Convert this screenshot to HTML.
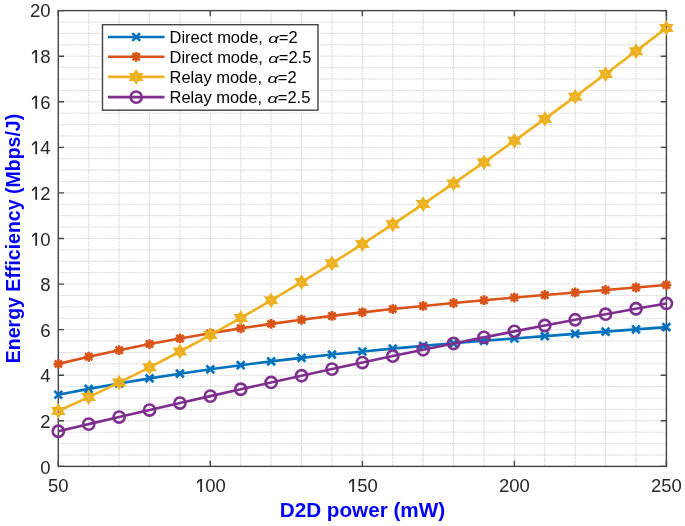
<!DOCTYPE html>
<html><head><meta charset="utf-8"><style>
html,body{margin:0;padding:0;background:#fff;width:685px;height:526px;overflow:hidden}
svg{display:block;filter:blur(0.35px);}
text{font-family:"Liberation Sans",sans-serif}
</style></head><body>
<svg width="685" height="526" viewBox="0 0 685 526">
<rect x="0" y="0" width="685" height="526" fill="#fff"/>
<path d="M88.70,10.6V466.4M119.11,10.6V466.4M149.51,10.6V466.4M179.92,10.6V466.4M210.32,10.6V466.4M240.73,10.6V466.4M271.13,10.6V466.4M301.54,10.6V466.4M331.94,10.6V466.4M362.35,10.6V466.4M392.75,10.6V466.4M423.16,10.6V466.4M453.56,10.6V466.4M483.97,10.6V466.4M514.38,10.6V466.4M544.78,10.6V466.4M575.18,10.6V466.4M605.59,10.6V466.4M636.00,10.6V466.4M58.3,455.00H666.4M58.3,443.61H666.4M58.3,432.21H666.4M58.3,420.82H666.4M58.3,409.42H666.4M58.3,398.03H666.4M58.3,386.63H666.4M58.3,375.24H666.4M58.3,363.84H666.4M58.3,352.45H666.4M58.3,341.06H666.4M58.3,329.66H666.4M58.3,318.26H666.4M58.3,306.87H666.4M58.3,295.48H666.4M58.3,284.08H666.4M58.3,272.69H666.4M58.3,261.29H666.4M58.3,249.90H666.4M58.3,238.50H666.4M58.3,227.10H666.4M58.3,215.71H666.4M58.3,204.31H666.4M58.3,192.92H666.4M58.3,181.53H666.4M58.3,170.13H666.4M58.3,158.74H666.4M58.3,147.34H666.4M58.3,135.94H666.4M58.3,124.55H666.4M58.3,113.15H666.4M58.3,101.76H666.4M58.3,90.37H666.4M58.3,78.97H666.4M58.3,67.58H666.4M58.3,56.18H666.4M58.3,44.79H666.4M58.3,33.39H666.4M58.3,22.00H666.4" stroke="#d0d0d0" stroke-width="1" stroke-dasharray="1.4,1.0" fill="none"/>
<path d="M58.30,466.4V460.7M58.30,10.6V16.3M210.32,466.4V460.7M210.32,10.6V16.3M362.35,466.4V460.7M362.35,10.6V16.3M514.38,466.4V460.7M514.38,10.6V16.3M666.40,466.4V460.7M666.40,10.6V16.3M58.3,466.40H64.0M666.4,466.40H660.6999999999999M58.3,420.82H64.0M666.4,420.82H660.6999999999999M58.3,375.24H64.0M666.4,375.24H660.6999999999999M58.3,329.66H64.0M666.4,329.66H660.6999999999999M58.3,284.08H64.0M666.4,284.08H660.6999999999999M58.3,238.50H64.0M666.4,238.50H660.6999999999999M58.3,192.92H64.0M666.4,192.92H660.6999999999999M58.3,147.34H64.0M666.4,147.34H660.6999999999999M58.3,101.76H64.0M666.4,101.76H660.6999999999999M58.3,56.18H64.0M666.4,56.18H660.6999999999999M58.3,10.60H64.0M666.4,10.60H660.6999999999999" stroke="#444444" stroke-width="1.4" fill="none"/>
<rect x="58.3" y="10.6" width="608.1" height="455.8" stroke="#444444" stroke-width="1.4" fill="none"/>
<polyline points="58.30,394.74 88.70,388.89 119.11,383.44 149.51,378.38 179.92,373.66 210.32,369.28 240.73,365.20 271.13,361.41 301.54,357.88 331.94,354.58 362.35,351.50 392.75,348.60 423.16,345.87 453.56,343.28 483.97,340.81 514.38,338.43 544.78,336.13 575.18,333.87 605.59,331.63 636.00,329.39 666.40,327.13" stroke="#0072BD" stroke-width="2.6" fill="none" stroke-linejoin="round"/>
<path d="M54.40,390.84L62.20,398.64M54.40,398.64L62.20,390.84" stroke="#0072BD" stroke-width="2.7" fill="none"/>
<path d="M84.80,384.99L92.61,392.79M84.80,392.79L92.61,384.99" stroke="#0072BD" stroke-width="2.7" fill="none"/>
<path d="M115.21,379.54L123.01,387.34M115.21,387.34L123.01,379.54" stroke="#0072BD" stroke-width="2.7" fill="none"/>
<path d="M145.61,374.48L153.41,382.28M145.61,382.28L153.41,374.48" stroke="#0072BD" stroke-width="2.7" fill="none"/>
<path d="M176.02,369.76L183.82,377.56M176.02,377.56L183.82,369.76" stroke="#0072BD" stroke-width="2.7" fill="none"/>
<path d="M206.42,365.38L214.22,373.18M206.42,373.18L214.22,365.38" stroke="#0072BD" stroke-width="2.7" fill="none"/>
<path d="M236.83,361.30L244.63,369.10M236.83,369.10L244.63,361.30" stroke="#0072BD" stroke-width="2.7" fill="none"/>
<path d="M267.24,357.51L275.03,365.31M267.24,365.31L275.03,357.51" stroke="#0072BD" stroke-width="2.7" fill="none"/>
<path d="M297.64,353.98L305.44,361.78M297.64,361.78L305.44,353.98" stroke="#0072BD" stroke-width="2.7" fill="none"/>
<path d="M328.05,350.68L335.84,358.48M328.05,358.48L335.84,350.68" stroke="#0072BD" stroke-width="2.7" fill="none"/>
<path d="M358.45,347.60L366.25,355.40M358.45,355.40L366.25,347.60" stroke="#0072BD" stroke-width="2.7" fill="none"/>
<path d="M388.86,344.70L396.65,352.50M388.86,352.50L396.65,344.70" stroke="#0072BD" stroke-width="2.7" fill="none"/>
<path d="M419.26,341.97L427.06,349.77M419.26,349.77L427.06,341.97" stroke="#0072BD" stroke-width="2.7" fill="none"/>
<path d="M449.67,339.38L457.46,347.18M449.67,347.18L457.46,339.38" stroke="#0072BD" stroke-width="2.7" fill="none"/>
<path d="M480.07,336.91L487.87,344.71M480.07,344.71L487.87,336.91" stroke="#0072BD" stroke-width="2.7" fill="none"/>
<path d="M510.48,334.53L518.27,342.33M510.48,342.33L518.27,334.53" stroke="#0072BD" stroke-width="2.7" fill="none"/>
<path d="M540.88,332.23L548.68,340.03M540.88,340.03L548.68,332.23" stroke="#0072BD" stroke-width="2.7" fill="none"/>
<path d="M571.28,329.97L579.08,337.77M571.28,337.77L579.08,329.97" stroke="#0072BD" stroke-width="2.7" fill="none"/>
<path d="M601.69,327.73L609.49,335.53M601.69,335.53L609.49,327.73" stroke="#0072BD" stroke-width="2.7" fill="none"/>
<path d="M632.10,325.49L639.89,333.29M632.10,333.29L639.89,325.49" stroke="#0072BD" stroke-width="2.7" fill="none"/>
<path d="M662.50,323.23L670.30,331.03M662.50,331.03L670.30,323.23" stroke="#0072BD" stroke-width="2.7" fill="none"/>
<polyline points="58.30,363.88 88.70,356.77 119.11,350.17 149.51,344.06 179.92,338.41 210.32,333.18 240.73,328.35 271.13,323.88 301.54,319.74 331.94,315.91 362.35,312.35 392.75,309.03 423.16,305.92 453.56,302.99 483.97,300.21 514.38,297.55 544.78,294.97 575.18,292.46 605.59,289.97 636.00,287.48 666.40,284.96" stroke="#D95319" stroke-width="2.6" fill="none" stroke-linejoin="round"/>
<path d="M58.30,358.98V368.78M53.40,363.88H63.20M54.70,360.28L61.90,367.48M54.70,367.48L61.90,360.28" stroke="#D95319" stroke-width="2.5" fill="none"/>
<path d="M88.70,351.87V361.67M83.80,356.77H93.61M85.11,353.17L92.30,360.37M85.11,360.37L92.30,353.17" stroke="#D95319" stroke-width="2.5" fill="none"/>
<path d="M119.11,345.27V355.07M114.21,350.17H124.01M115.51,346.57L122.71,353.77M115.51,353.77L122.71,346.57" stroke="#D95319" stroke-width="2.5" fill="none"/>
<path d="M149.51,339.16V348.96M144.61,344.06H154.41M145.91,340.46L153.11,347.66M145.91,347.66L153.11,340.46" stroke="#D95319" stroke-width="2.5" fill="none"/>
<path d="M179.92,333.51V343.31M175.02,338.41H184.82M176.32,334.81L183.52,342.01M176.32,342.01L183.52,334.81" stroke="#D95319" stroke-width="2.5" fill="none"/>
<path d="M210.32,328.28V338.08M205.42,333.18H215.22M206.72,329.58L213.92,336.78M206.72,336.78L213.92,329.58" stroke="#D95319" stroke-width="2.5" fill="none"/>
<path d="M240.73,323.45V333.25M235.83,328.35H245.63M237.13,324.75L244.33,331.95M237.13,331.95L244.33,324.75" stroke="#D95319" stroke-width="2.5" fill="none"/>
<path d="M271.13,318.98V328.78M266.24,323.88H276.03M267.53,320.28L274.74,327.48M267.53,327.48L274.74,320.28" stroke="#D95319" stroke-width="2.5" fill="none"/>
<path d="M301.54,314.84V324.64M296.64,319.74H306.44M297.94,316.14L305.14,323.34M297.94,323.34L305.14,316.14" stroke="#D95319" stroke-width="2.5" fill="none"/>
<path d="M331.94,311.01V320.81M327.05,315.91H336.84M328.34,312.31L335.55,319.51M328.34,319.51L335.55,312.31" stroke="#D95319" stroke-width="2.5" fill="none"/>
<path d="M362.35,307.45V317.25M357.45,312.35H367.25M358.75,308.75L365.95,315.95M358.75,315.95L365.95,308.75" stroke="#D95319" stroke-width="2.5" fill="none"/>
<path d="M392.75,304.13V313.93M387.86,309.03H397.65M389.15,305.43L396.36,312.63M389.15,312.63L396.36,305.43" stroke="#D95319" stroke-width="2.5" fill="none"/>
<path d="M423.16,301.02V310.82M418.26,305.92H428.06M419.56,302.32L426.76,309.52M419.56,309.52L426.76,302.32" stroke="#D95319" stroke-width="2.5" fill="none"/>
<path d="M453.56,298.09V307.89M448.67,302.99H458.46M449.96,299.39L457.17,306.59M449.96,306.59L457.17,299.39" stroke="#D95319" stroke-width="2.5" fill="none"/>
<path d="M483.97,295.31V305.11M479.07,300.21H488.87M480.37,296.61L487.57,303.81M480.37,303.81L487.57,296.61" stroke="#D95319" stroke-width="2.5" fill="none"/>
<path d="M514.38,292.65V302.45M509.48,297.55H519.27M510.77,293.95L517.98,301.15M510.77,301.15L517.98,293.95" stroke="#D95319" stroke-width="2.5" fill="none"/>
<path d="M544.78,290.07V299.87M539.88,294.97H549.68M541.18,291.37L548.38,298.57M541.18,298.57L548.38,291.37" stroke="#D95319" stroke-width="2.5" fill="none"/>
<path d="M575.18,287.56V297.36M570.28,292.46H580.08M571.58,288.86L578.78,296.06M571.58,296.06L578.78,288.86" stroke="#D95319" stroke-width="2.5" fill="none"/>
<path d="M605.59,285.07V294.87M600.69,289.97H610.49M601.99,286.37L609.19,293.57M601.99,293.57L609.19,286.37" stroke="#D95319" stroke-width="2.5" fill="none"/>
<path d="M636.00,282.58V292.38M631.10,287.48H640.89M632.39,283.88L639.60,291.08M632.39,291.08L639.60,283.88" stroke="#D95319" stroke-width="2.5" fill="none"/>
<path d="M666.40,280.06V289.86M661.50,284.96H671.30M662.80,281.36L670.00,288.56M662.80,288.56L670.00,281.36" stroke="#D95319" stroke-width="2.5" fill="none"/>
<polyline points="58.30,410.97 88.70,397.11 119.11,382.57 149.51,367.36 179.92,351.51 210.32,335.03 240.73,317.96 271.13,300.30 301.54,282.09 331.94,263.34 362.35,244.08 392.75,224.33 423.16,204.10 453.56,183.43 483.97,162.33 514.38,140.82 544.78,118.92 575.18,96.67 605.59,74.07 636.00,51.15 666.40,27.93" stroke="#EDB120" stroke-width="2.6" fill="none" stroke-linejoin="round"/>
<polygon points="58.30,405.97 56.76,408.47 53.67,408.47 55.21,410.97 53.67,413.47 56.76,413.47 58.30,415.97 59.84,413.47 62.93,413.47 61.39,410.97 62.93,408.47 59.84,408.47" stroke="#EDB120" stroke-width="3.0" fill="none" stroke-linejoin="miter"/>
<polygon points="88.70,392.11 87.16,394.61 84.07,394.61 85.62,397.11 84.07,399.61 87.16,399.61 88.70,402.11 90.25,399.61 93.34,399.61 91.79,397.11 93.34,394.61 90.25,394.61" stroke="#EDB120" stroke-width="3.0" fill="none" stroke-linejoin="miter"/>
<polygon points="119.11,377.57 117.57,380.07 114.48,380.07 116.02,382.57 114.48,385.07 117.57,385.07 119.11,387.57 120.65,385.07 123.74,385.07 122.20,382.57 123.74,380.07 120.65,380.07" stroke="#EDB120" stroke-width="3.0" fill="none" stroke-linejoin="miter"/>
<polygon points="149.51,362.36 147.97,364.86 144.88,364.86 146.43,367.36 144.88,369.86 147.97,369.86 149.51,372.36 151.06,369.86 154.15,369.86 152.60,367.36 154.15,364.86 151.06,364.86" stroke="#EDB120" stroke-width="3.0" fill="none" stroke-linejoin="miter"/>
<polygon points="179.92,346.51 178.38,349.01 175.29,349.01 176.83,351.51 175.29,354.01 178.38,354.01 179.92,356.51 181.46,354.01 184.55,354.01 183.01,351.51 184.55,349.01 181.46,349.01" stroke="#EDB120" stroke-width="3.0" fill="none" stroke-linejoin="miter"/>
<polygon points="210.32,330.03 208.78,332.53 205.69,332.53 207.24,335.03 205.69,337.53 208.78,337.53 210.32,340.03 211.87,337.53 214.96,337.53 213.41,335.03 214.96,332.53 211.87,332.53" stroke="#EDB120" stroke-width="3.0" fill="none" stroke-linejoin="miter"/>
<polygon points="240.73,312.96 239.19,315.46 236.10,315.46 237.64,317.96 236.10,320.46 239.19,320.46 240.73,322.96 242.27,320.46 245.36,320.46 243.82,317.96 245.36,315.46 242.27,315.46" stroke="#EDB120" stroke-width="3.0" fill="none" stroke-linejoin="miter"/>
<polygon points="271.13,295.30 269.59,297.80 266.50,297.80 268.05,300.30 266.50,302.80 269.59,302.80 271.13,305.30 272.68,302.80 275.77,302.80 274.22,300.30 275.77,297.80 272.68,297.80" stroke="#EDB120" stroke-width="3.0" fill="none" stroke-linejoin="miter"/>
<polygon points="301.54,277.09 300.00,279.59 296.91,279.59 298.45,282.09 296.91,284.59 300.00,284.59 301.54,287.09 303.08,284.59 306.17,284.59 304.63,282.09 306.17,279.59 303.08,279.59" stroke="#EDB120" stroke-width="3.0" fill="none" stroke-linejoin="miter"/>
<polygon points="331.94,258.34 330.40,260.84 327.31,260.84 328.86,263.34 327.31,265.84 330.40,265.84 331.94,268.34 333.49,265.84 336.58,265.84 335.03,263.34 336.58,260.84 333.49,260.84" stroke="#EDB120" stroke-width="3.0" fill="none" stroke-linejoin="miter"/>
<polygon points="362.35,239.08 360.81,241.58 357.72,241.58 359.26,244.08 357.72,246.58 360.81,246.58 362.35,249.08 363.89,246.58 366.98,246.58 365.44,244.08 366.98,241.58 363.89,241.58" stroke="#EDB120" stroke-width="3.0" fill="none" stroke-linejoin="miter"/>
<polygon points="392.75,219.33 391.21,221.83 388.12,221.83 389.67,224.33 388.12,226.83 391.21,226.83 392.75,229.33 394.30,226.83 397.39,226.83 395.84,224.33 397.39,221.83 394.30,221.83" stroke="#EDB120" stroke-width="3.0" fill="none" stroke-linejoin="miter"/>
<polygon points="423.16,199.10 421.62,201.60 418.53,201.60 420.07,204.10 418.53,206.60 421.62,206.60 423.16,209.10 424.70,206.60 427.79,206.60 426.25,204.10 427.79,201.60 424.70,201.60" stroke="#EDB120" stroke-width="3.0" fill="none" stroke-linejoin="miter"/>
<polygon points="453.56,178.43 452.02,180.93 448.93,180.93 450.48,183.43 448.93,185.93 452.02,185.93 453.56,188.43 455.11,185.93 458.20,185.93 456.65,183.43 458.20,180.93 455.11,180.93" stroke="#EDB120" stroke-width="3.0" fill="none" stroke-linejoin="miter"/>
<polygon points="483.97,157.33 482.43,159.83 479.34,159.83 480.88,162.33 479.34,164.83 482.43,164.83 483.97,167.33 485.51,164.83 488.60,164.83 487.06,162.33 488.60,159.83 485.51,159.83" stroke="#EDB120" stroke-width="3.0" fill="none" stroke-linejoin="miter"/>
<polygon points="514.38,135.82 512.83,138.32 509.74,138.32 511.29,140.82 509.74,143.32 512.83,143.32 514.38,145.82 515.92,143.32 519.01,143.32 517.46,140.82 519.01,138.32 515.92,138.32" stroke="#EDB120" stroke-width="3.0" fill="none" stroke-linejoin="miter"/>
<polygon points="544.78,113.92 543.24,116.42 540.15,116.42 541.69,118.92 540.15,121.42 543.24,121.42 544.78,123.92 546.32,121.42 549.41,121.42 547.87,118.92 549.41,116.42 546.32,116.42" stroke="#EDB120" stroke-width="3.0" fill="none" stroke-linejoin="miter"/>
<polygon points="575.18,91.67 573.64,94.17 570.55,94.17 572.10,96.67 570.55,99.17 573.64,99.17 575.18,101.67 576.73,99.17 579.82,99.17 578.27,96.67 579.82,94.17 576.73,94.17" stroke="#EDB120" stroke-width="3.0" fill="none" stroke-linejoin="miter"/>
<polygon points="605.59,69.07 604.05,71.57 600.96,71.57 602.50,74.07 600.96,76.57 604.05,76.57 605.59,79.07 607.13,76.57 610.22,76.57 608.68,74.07 610.22,71.57 607.13,71.57" stroke="#EDB120" stroke-width="3.0" fill="none" stroke-linejoin="miter"/>
<polygon points="636.00,46.15 634.45,48.65 631.36,48.65 632.91,51.15 631.36,53.65 634.45,53.65 636.00,56.15 637.54,53.65 640.63,53.65 639.08,51.15 640.63,48.65 637.54,48.65" stroke="#EDB120" stroke-width="3.0" fill="none" stroke-linejoin="miter"/>
<polygon points="666.40,22.93 664.86,25.43 661.77,25.43 663.31,27.93 661.77,30.43 664.86,30.43 666.40,32.93 667.94,30.43 671.03,30.43 669.49,27.93 671.03,25.43 667.94,25.43" stroke="#EDB120" stroke-width="3.0" fill="none" stroke-linejoin="miter"/>
<polyline points="58.30,431.25 88.70,424.14 119.11,417.07 149.51,410.03 179.92,403.05 210.32,396.12 240.73,389.25 271.13,382.45 301.54,375.73 331.94,369.09 362.35,362.54 392.75,356.08 423.16,349.73 453.56,343.49 483.97,337.37 514.38,331.37 544.78,325.50 575.18,319.77 605.59,314.18 636.00,308.75 666.40,303.47" stroke="#7E2F8E" stroke-width="2.6" fill="none" stroke-linejoin="round"/>
<circle cx="58.30" cy="431.25" r="5.6" stroke="#7E2F8E" stroke-width="2.6" fill="none"/>
<circle cx="88.70" cy="424.14" r="5.6" stroke="#7E2F8E" stroke-width="2.6" fill="none"/>
<circle cx="119.11" cy="417.07" r="5.6" stroke="#7E2F8E" stroke-width="2.6" fill="none"/>
<circle cx="149.51" cy="410.03" r="5.6" stroke="#7E2F8E" stroke-width="2.6" fill="none"/>
<circle cx="179.92" cy="403.05" r="5.6" stroke="#7E2F8E" stroke-width="2.6" fill="none"/>
<circle cx="210.32" cy="396.12" r="5.6" stroke="#7E2F8E" stroke-width="2.6" fill="none"/>
<circle cx="240.73" cy="389.25" r="5.6" stroke="#7E2F8E" stroke-width="2.6" fill="none"/>
<circle cx="271.13" cy="382.45" r="5.6" stroke="#7E2F8E" stroke-width="2.6" fill="none"/>
<circle cx="301.54" cy="375.73" r="5.6" stroke="#7E2F8E" stroke-width="2.6" fill="none"/>
<circle cx="331.94" cy="369.09" r="5.6" stroke="#7E2F8E" stroke-width="2.6" fill="none"/>
<circle cx="362.35" cy="362.54" r="5.6" stroke="#7E2F8E" stroke-width="2.6" fill="none"/>
<circle cx="392.75" cy="356.08" r="5.6" stroke="#7E2F8E" stroke-width="2.6" fill="none"/>
<circle cx="423.16" cy="349.73" r="5.6" stroke="#7E2F8E" stroke-width="2.6" fill="none"/>
<circle cx="453.56" cy="343.49" r="5.6" stroke="#7E2F8E" stroke-width="2.6" fill="none"/>
<circle cx="483.97" cy="337.37" r="5.6" stroke="#7E2F8E" stroke-width="2.6" fill="none"/>
<circle cx="514.38" cy="331.37" r="5.6" stroke="#7E2F8E" stroke-width="2.6" fill="none"/>
<circle cx="544.78" cy="325.50" r="5.6" stroke="#7E2F8E" stroke-width="2.6" fill="none"/>
<circle cx="575.18" cy="319.77" r="5.6" stroke="#7E2F8E" stroke-width="2.6" fill="none"/>
<circle cx="605.59" cy="314.18" r="5.6" stroke="#7E2F8E" stroke-width="2.6" fill="none"/>
<circle cx="636.00" cy="308.75" r="5.6" stroke="#7E2F8E" stroke-width="2.6" fill="none"/>
<circle cx="666.40" cy="303.47" r="5.6" stroke="#7E2F8E" stroke-width="2.6" fill="none"/>
<text x="40.21" y="474.30" font-size="18.5" fill="#262626">0</text>
<text x="40.21" y="428.02" font-size="18.5" fill="#262626">2</text>
<text x="40.21" y="382.14" font-size="18.5" fill="#262626">4</text>
<text x="40.21" y="336.56" font-size="18.5" fill="#262626">6</text>
<text x="40.21" y="290.98" font-size="18.5" fill="#262626">8</text>
<polygon points="37.07,232.79 37.07,245.80 35.29,245.80 35.29,234.61 31.93,237.47 31.93,235.44 35.02,232.79" fill="#262626"/>
<text x="40.21" y="245.80" font-size="18.5" fill="#262626">0</text>
<polygon points="37.07,186.81 37.07,199.82 35.29,199.82 35.29,188.63 31.93,191.50 31.93,189.46 35.02,186.81" fill="#262626"/>
<text x="40.21" y="199.82" font-size="18.5" fill="#262626">2</text>
<polygon points="37.07,141.23 37.07,154.24 35.29,154.24 35.29,143.05 31.93,145.92 31.93,143.88 35.02,141.23" fill="#262626"/>
<text x="40.21" y="154.24" font-size="18.5" fill="#262626">4</text>
<polygon points="37.07,95.65 37.07,108.66 35.29,108.66 35.29,97.47 31.93,100.33 31.93,98.30 35.02,95.65" fill="#262626"/>
<text x="40.21" y="108.66" font-size="18.5" fill="#262626">6</text>
<polygon points="37.07,50.07 37.07,63.08 35.29,63.08 35.29,51.89 31.93,54.76 31.93,52.72 35.02,50.07" fill="#262626"/>
<text x="40.21" y="63.08" font-size="18.5" fill="#262626">8</text>
<text x="29.93" y="16.90" font-size="18.5" fill="#262626">2</text>
<text x="40.21" y="16.90" font-size="18.5" fill="#262626">0</text>
<text x="48.01" y="492.00" font-size="18.5" fill="#262626">5</text>
<text x="58.30" y="492.00" font-size="18.5" fill="#262626">0</text>
<polygon points="202.04,478.99 202.04,492.00 200.26,492.00 200.26,480.81 196.89,483.68 196.89,481.64 199.98,478.99" fill="#262626"/>
<text x="205.18" y="492.00" font-size="18.5" fill="#262626">0</text>
<text x="215.47" y="492.00" font-size="18.5" fill="#262626">0</text>
<polygon points="354.06,478.99 354.06,492.00 352.29,492.00 352.29,480.81 348.92,483.68 348.92,481.64 352.01,478.99" fill="#262626"/>
<text x="357.21" y="492.00" font-size="18.5" fill="#262626">5</text>
<text x="367.49" y="492.00" font-size="18.5" fill="#262626">0</text>
<text x="498.95" y="492.00" font-size="18.5" fill="#262626">2</text>
<text x="509.23" y="492.00" font-size="18.5" fill="#262626">0</text>
<text x="519.52" y="492.00" font-size="18.5" fill="#262626">0</text>
<text x="650.97" y="492.00" font-size="18.5" fill="#262626">2</text>
<text x="661.26" y="492.00" font-size="18.5" fill="#262626">5</text>
<text x="671.54" y="492.00" font-size="18.5" fill="#262626">0</text>
<text transform="translate(362.4,517.3) scale(1.019,1)" font-size="20.3" font-weight="bold" fill="#0000FF" text-anchor="middle">D2D power (mW)</text>
<text transform="translate(19.75,238.5) rotate(-90) scale(0.962,1)" x="0" y="0" font-size="20.3" font-weight="bold" fill="#0000FF" text-anchor="middle">Energy Efficiency (Mbps/J)</text>
<rect x="102.5" y="24.7" width="215.5" height="85.5" fill="#fff" stroke="#444444" stroke-width="1.4"/>
<path d="M108,37.0H164.5" stroke="#0072BD" stroke-width="2.6" fill="none"/>
<path d="M132.30,33.10L140.10,40.90M132.30,40.90L140.10,33.10" stroke="#0072BD" stroke-width="2.7" fill="none"/>
<text transform="translate(169.5,43.0) scale(1.044,1)" font-size="15.8" fill="#000">Direct mode, </text>
<text transform="translate(268.24,43.0) scale(1.45,1)" font-size="12.8" fill="#000" font-family="Liberation Serif" font-style="italic">α</text>
<text transform="translate(278.78,43.0) scale(1.044,1)" font-size="15.8" fill="#000">=2</text>
<path d="M108,56.8H164.5" stroke="#D95319" stroke-width="2.6" fill="none"/>
<path d="M136.20,51.90V61.70M131.30,56.80H141.10M132.60,53.20L139.80,60.40M132.60,60.40L139.80,53.20" stroke="#D95319" stroke-width="2.5" fill="none"/>
<text transform="translate(169.5,62.8) scale(1.044,1)" font-size="15.8" fill="#000">Direct mode, </text>
<text transform="translate(268.24,62.8) scale(1.45,1)" font-size="12.8" fill="#000" font-family="Liberation Serif" font-style="italic">α</text>
<text transform="translate(278.78,62.8) scale(1.044,1)" font-size="15.8" fill="#000">=2.5</text>
<path d="M108,76.9H164.5" stroke="#EDB120" stroke-width="2.6" fill="none"/>
<polygon points="136.20,71.90 134.66,74.40 131.57,74.40 133.11,76.90 131.57,79.40 134.66,79.40 136.20,81.90 137.74,79.40 140.83,79.40 139.29,76.90 140.83,74.40 137.74,74.40" stroke="#EDB120" stroke-width="3.0" fill="none" stroke-linejoin="miter"/>
<text transform="translate(169.5,82.9) scale(1.044,1)" font-size="15.8" fill="#000">Relay mode, </text>
<text transform="translate(267.44,82.9) scale(1.45,1)" font-size="12.8" fill="#000" font-family="Liberation Serif" font-style="italic">α</text>
<text transform="translate(277.78,82.9) scale(1.044,1)" font-size="15.8" fill="#000">=2</text>
<path d="M108,97.1H164.5" stroke="#7E2F8E" stroke-width="2.6" fill="none"/>
<circle cx="136.20" cy="97.10" r="5.6" stroke="#7E2F8E" stroke-width="2.6" fill="none"/>
<text transform="translate(169.5,103.1) scale(1.044,1)" font-size="15.8" fill="#000">Relay mode, </text>
<text transform="translate(267.44,103.1) scale(1.45,1)" font-size="12.8" fill="#000" font-family="Liberation Serif" font-style="italic">α</text>
<text transform="translate(277.78,103.1) scale(1.044,1)" font-size="15.8" fill="#000">=2.5</text>
</svg></body></html>
